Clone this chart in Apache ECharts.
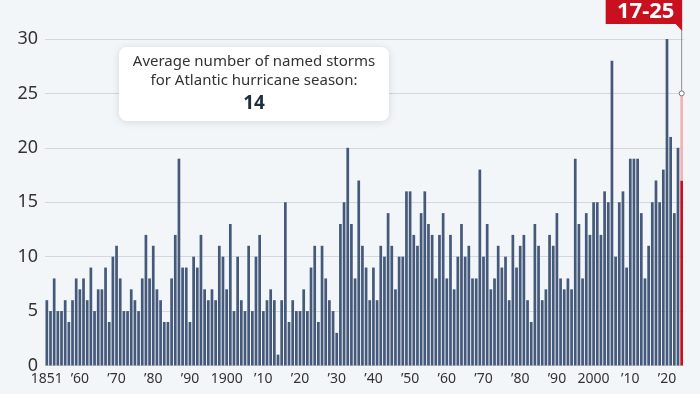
<!DOCTYPE html>
<html><head><meta charset="utf-8">
<script src="https://cdn.jsdelivr.net/npm/echarts@6/dist/echarts.min.js"></script>
<style>html,body{margin:0;padding:0;background:#f3f6f9}#c{width:700px;height:394px}</style>
</head><body><div id="c"></div>
<script>
const startYear = 1851, endYear = 2024;
const years = [];
for (let y = startYear; y <= endYear; y++) years.push(String(y));
// Named storms per Atlantic season, 1851-2024 (2024 = low end of forecast)
const namedStorms = [
  6,5,8,5,5,6,4,6,8,7,
  8,6,9,5,7,7,9,4,10,11,
  8,5,5,7,6,5,8,12,8,11,
  7,6,4,4,8,12,19,9,9,4,
  10,9,12,7,6,7,6,11,10,7,
  13,5,10,6,5,11,5,10,12,5,
  6,7,6,1,6,15,4,6,5,5,
  7,5,9,11,4,11,8,6,5,3,
  13,15,20,13,8,17,11,9,6,9,
  6,11,10,14,11,7,10,10,16,16,
  12,11,14,16,13,12,8,12,14,8,
  12,7,10,13,10,11,8,8,18,10,
  13,7,8,11,9,10,6,12,9,11,
  12,6,4,13,11,6,7,12,11,14,
  8,7,8,7,19,13,8,14,12,15,
  15,12,16,15,28,10,15,16,9,19,
  19,19,14,8,11,15,17,15,18,30,
  21,14,20,17
];
const forecastYear = '2024';
const forecastLow = 17, forecastHigh = 25;
const forecastLabel = '17-25';
const avgStorms = 14;
const yTicks = [0, 5, 10, 15, 20, 25, 30];

const BAR = '#45597a', RED = '#c8101e', PINK = '#f3b3b3';
const chart = echarts.init(document.getElementById('c'));
const lastIdx = years.indexOf(forecastYear);
const mainData = namedStorms.map((v, i) => i === lastIdx ? {value: v, itemStyle: {color: RED}} : v);
const rangeData = years.map((y, i) => i === lastIdx ? forecastHigh - forecastLow : null);

chart.setOption({
  backgroundColor: '#f3f6f9',
  animation: false,
  grid: {left: 45, right: 16.5, top: 39, bottom: 28.5},
  xAxis: {
    type: 'category', data: years,
    axisLine: {show: false}, axisTick: {show: false},
    axisLabel: {
      interval: (i, v) => v === '1851' || (+v) % 10 === 0,
      formatter: v => (v === '1851' || (+v) % 100 === 0) ? v : '\u2019' + v.slice(2),
      color: '#333', fontSize: 14, fontFamily: 'Noto Sans', margin: 7
    }
  },
  yAxis: {
    type: 'value', min: yTicks[0], max: yTicks[yTicks.length - 1], interval: 5,
    axisLabel: {color: '#333', fontSize: 18, fontFamily: 'Noto Sans', margin: 7},
    splitLine: {lineStyle: {color: '#d3d8de', width: 1}}
  },
  series: [
    {type: 'bar', stack: 's', data: mainData, barCategoryGap: '26%', itemStyle: {color: BAR}},
    {type: 'bar', stack: 's', data: rangeData, itemStyle: {color: PINK}}
  ]
});

const p = chart.convertToPixel({xAxisIndex: 0, yAxisIndex: 0}, [forecastYear, forecastHigh]);
const fx = p[0];
chart.setOption({
  graphic: [
    {type: 'line', shape: {x1: fx, y1: 30, x2: fx, y2: p[1] - 2.5}, style: {stroke: '#8a8f96', lineWidth: 1}, z: 10},
    {type: 'circle', shape: {cx: fx, cy: p[1], r: 2.5}, style: {fill: '#fff', stroke: '#777', lineWidth: 1}, z: 11},
    {type: 'polygon', shape: {points: [[fx - 76, 0], [fx + 0.5, 0], [fx + 0.5, 31], [fx - 6, 24], [fx - 76, 24]]}, style: {fill: RED}, z: 12},
    {type: 'text', x: fx - 36, y: 12, style: {text: forecastLabel, fill: '#fff', font: 'bold 22px "Noto Sans"', align: 'center', verticalAlign: 'middle'}, z: 13},
    {type: 'rect', shape: {x: 119, y: 47, width: 270, height: 74, r: 8}, style: {fill: '#fff', shadowBlur: 8, shadowColor: 'rgba(0,0,0,0.12)', shadowOffsetY: 1}, z: 20},
    {type: 'text', x: 254, y: 62, style: {text: 'Average number of named storms', fill: '#333', font: '15px "Noto Sans"', align: 'center', verticalAlign: 'middle'}, z: 21},
    {type: 'text', x: 254, y: 81, style: {text: 'for Atlantic hurricane season:', fill: '#333', font: '15px "Noto Sans"', align: 'center', verticalAlign: 'middle'}, z: 21},
    {type: 'text', x: 254, y: 104, style: {text: String(avgStorms), fill: '#1f2d3d', font: 'bold 19px "Noto Sans"', align: 'center', verticalAlign: 'middle'}, z: 21}
  ]
});
</script></body></html>
